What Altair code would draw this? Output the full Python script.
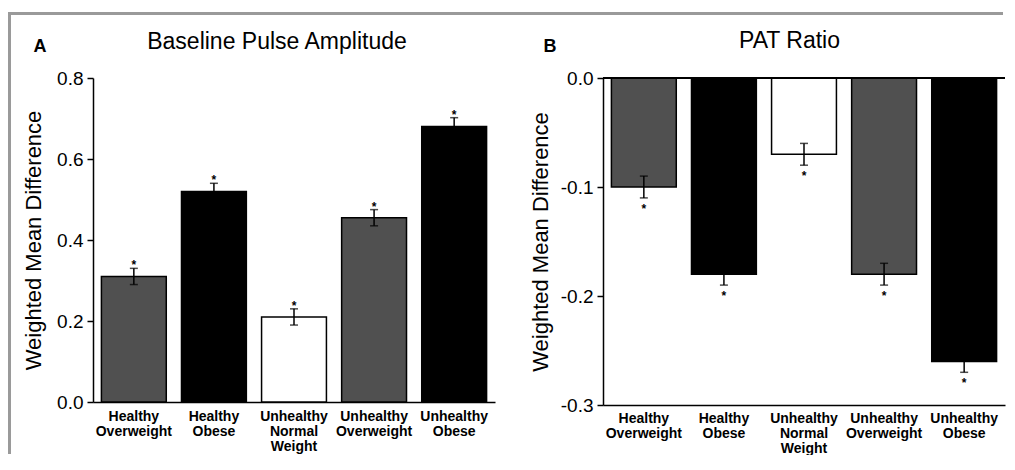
import altair as alt
import pandas as pd

# ---- data ----
categories = ["Healthy Overweight", "Healthy Obese", "Unhealthy Normal Weight",
              "Unhealthy Overweight", "Unhealthy Obese"]
bpa_mean = [0.31, 0.52, 0.21, 0.455, 0.68]
bpa_err = [0.02, 0.02, 0.02, 0.02, 0.022]
pat_mean = [-0.10, -0.18, -0.07, -0.18, -0.26]
pat_err = [0.01, 0.01, 0.01, 0.01, 0.01]
ticks_a = [0.0, 0.2, 0.4, 0.6, 0.8]
ticks_b = [0.0, -0.1, -0.2, -0.3]
title_a = "Baseline Pulse Amplitude"
title_b = "PAT Ratio"
y_title = "Weighted Mean Difference"

FILLS = ["#505050", "#000000", "#ffffff", "#505050", "#000000"]
FONT = "Liberation Sans"


def make_df(mean, err):
    df = pd.DataFrame({"cat": categories, "val": mean, "err": err})
    df["lo"] = df["val"] - df["err"]
    df["hi"] = df["val"] + df["err"]
    df["zero"] = 0.0
    return df


def panel(df, width, height, domain, ticks, title, letter, title_pos, letter_pos,
          star_field, star_dy, label_pad, title_x, zero_line=False, frame=False):
    xenc = alt.X("cat:N", sort=categories,
                 scale=alt.Scale(paddingInner=0.19, paddingOuter=0.105),
                 axis=alt.Axis(title=None, labelExpr="split(datum.label, ' ')",
                               labelAngle=0, ticks=False, labelPadding=label_pad,
                               labelFont=FONT, labelFontSize=14, labelFontWeight="bold",
                               labelLineHeight=15, labelBaseline="top", labelOverlap=False,
                               labelColor="black", domainColor="black", domainWidth=1.5))
    yscale = alt.Scale(domain=domain, nice=False, zero=False)
    yaxis = alt.Axis(values=ticks, title=y_title,
                     labelExpr="datum.value < 0 ? '-' + format(-datum.value, '.1f') : format(datum.value, '.1f')",
                     labelFont=FONT, labelFontSize=19, labelColor="black", labelPadding=4,
                     tickSize=6, tickWidth=1.5, tickColor="black",
                     domainColor="black", domainWidth=1.5,
                     titleFont=FONT, titleFontSize=22, titleFontWeight="normal",
                     titleColor="black", titleX=title_x, titleY=height / 2,
                     titleAngle=-90, titleBaseline="middle", titleAlign="center")

    def Y(field):
        return alt.Y(f"{field}:Q", scale=yscale, axis=yaxis)

    X = alt.X("cat:N", sort=categories)
    base = alt.Chart(df)
    bars = base.mark_bar(stroke="black", strokeWidth=1.5).encode(
        x=xenc,
        y=Y("val"),
        y2="zero:Q",
        color=alt.Color("cat:N", sort=categories,
                        scale=alt.Scale(domain=categories, range=FILLS), legend=None),
    )
    err = base.mark_rule(color="black", strokeWidth=1.5).encode(x=X, y=Y("lo"), y2="hi:Q")
    cap_lo = base.mark_tick(color="black", thickness=1.5, size=8).encode(x=X, y=Y("lo"))
    cap_hi = base.mark_tick(color="black", thickness=1.5, size=8).encode(x=X, y=Y("hi"))
    stars = base.mark_text(text="*", font=FONT, fontSize=12, fontWeight="bold",
                           color="black", baseline="alphabetic", dy=star_dy).encode(
        x=X, y=Y(star_field))
    ttl = alt.Chart(alt.Data(values=[{"t": title}])).mark_text(
        font=FONT, fontSize=23, color="black", align="center", baseline="alphabetic").encode(
        text="t:N", x=alt.value(title_pos[0]), y=alt.value(title_pos[1]))
    let = alt.Chart(alt.Data(values=[{"t": letter}])).mark_text(
        font=FONT, fontSize=18, fontWeight="bold", color="black", align="center",
        baseline="alphabetic").encode(
        text="t:N", x=alt.value(letter_pos[0]), y=alt.value(letter_pos[1]))
    layers = [bars, err, cap_lo, cap_hi, stars, ttl, let]
    if zero_line:
        layers.append(base.mark_rule(color="black", strokeWidth=1.5).encode(y=Y("zero")))
    if frame:
        fr = alt.Chart(alt.Data(values=[{"f": 1}]))
        # grey page frame (left and top edges), drawn as filled strips
        layers.append(fr.mark_rect(color="#9a9a9a", strokeWidth=0).encode(
            x=alt.value(-85), x2=alt.value(-82), y=alt.value(-66), y2=alt.value(376)))
        layers.append(fr.mark_rect(color="#9a9a9a", strokeWidth=0).encode(
            x=alt.value(-85), x2=alt.value(910), y=alt.value(-66), y2=alt.value(-63)))
    return alt.layer(*layers).properties(width=width, height=height)


panel_a = panel(make_df(bpa_mean, bpa_err), 402, 324, [0, 0.8], ticks_a, title_a, "A",
                (184, -29), (-53, -26), "hi", 1, 7, -60, frame=True)
panel_b = panel(make_df(pat_mean, pat_err), 402, 327, [-0.3, 0], ticks_b, title_b, "B",
                (186.5, -30), (-53, -26), "lo", 15, 6, -63, zero_line=True)

chart = alt.hconcat(panel_a, panel_b, spacing=108, bounds="flush").properties(
    padding={"left": 0, "top": 4, "right": 0, "bottom": 0},
    background="white",
).configure_view(stroke=None).configure_axis(grid=False)

chart.save("out.html", embed_options={"renderer": "svg", "actions": False})
